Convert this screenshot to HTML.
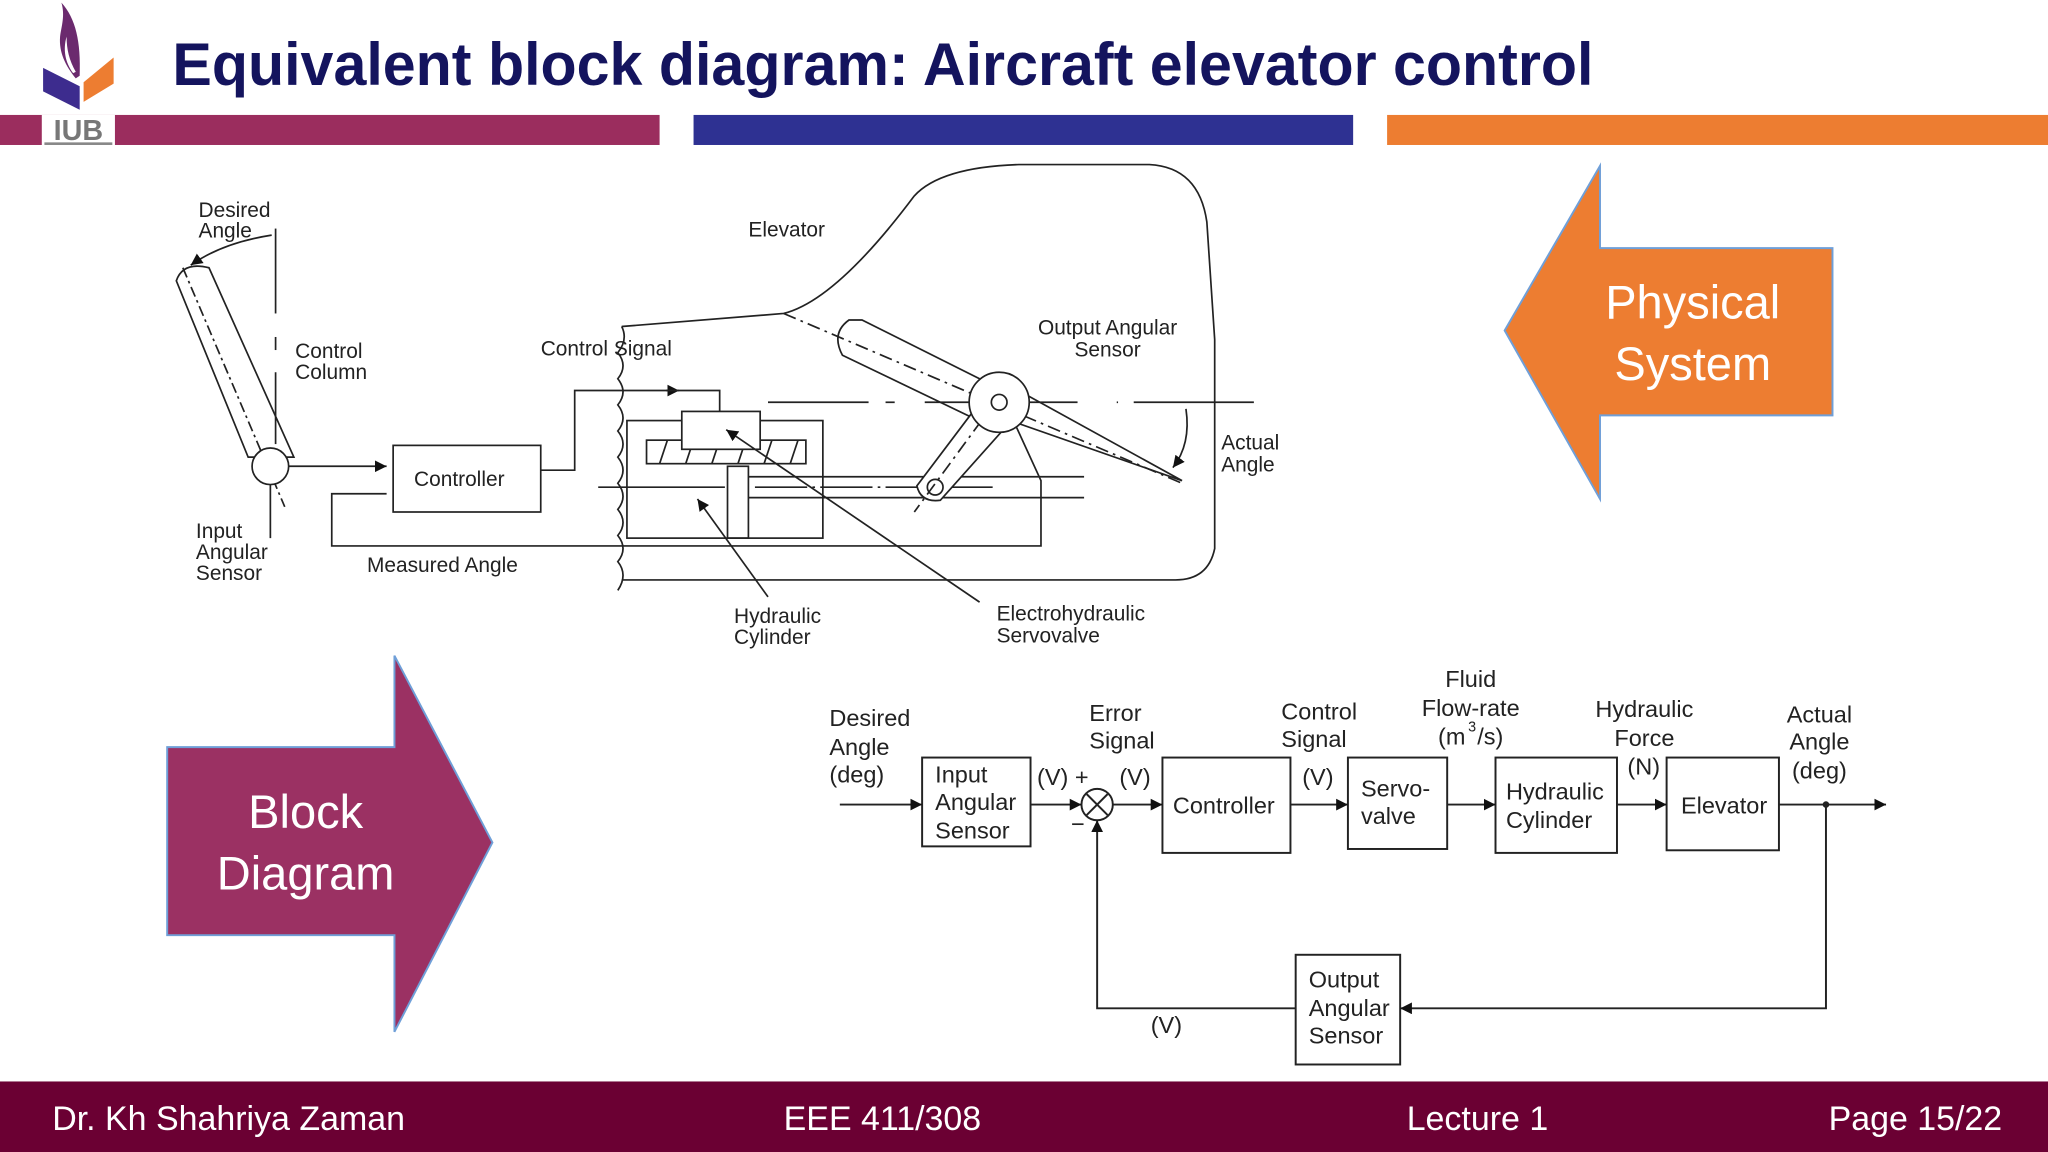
<!DOCTYPE html>
<html><head><meta charset="utf-8"><style>
html,body{margin:0;padding:0;background:#fff;}
svg{display:block;}
text{font-family:"Liberation Sans",sans-serif;}
</style></head><body>
<svg width="2048" height="1152" viewBox="0 0 1568 882" xmlns="http://www.w3.org/2000/svg">
<defs>
<marker id="a" viewBox="0 0 10 10" refX="10" refY="5" markerWidth="9" markerHeight="9" orient="auto" markerUnits="userSpaceOnUse"><path d="M0,0 L10,5 L0,10 z" fill="#111"/></marker>
</defs>
<rect width="1568" height="882" fill="#fff"/>
<!-- bars -->
<rect x="0" y="88" width="505" height="23" fill="#9b2d5e"/>
<rect x="531" y="88" width="505" height="23" fill="#2e3192"/>
<rect x="1062" y="88" width="506" height="23" fill="#ed7d31"/>
<!-- logo -->
<path d="M47,2 C58,14 62,32 61,58 L58,60 C50,50 45,40 46,28 C47,20 50,12 47,2 z" fill="#6b2a6e"/>
<path d="M51,28 C48,38 50,48 56,56 L58,55 C53,46 51,38 51,28z" fill="#fff"/>
<polygon points="33,52 61,66 61,84 33,70" fill="#3d2c8e"/>
<polygon points="64,63 87,44 87,64 64,78" fill="#ed7d31"/>
<rect x="32" y="88" width="56" height="24" fill="#fff"/>
<text x="60" y="107" font-size="22" font-weight="bold" fill="#777" text-anchor="middle">IUB</text>
<rect x="34" y="109" width="52" height="2" fill="#888"/>
<!-- title -->
<text x="132" y="65" font-size="46" font-weight="bold" fill="#14145e" textLength="1088" lengthAdjust="spacingAndGlyphs">Equivalent block diagram: Aircraft elevator control</text>
<!-- footer -->
<rect x="0" y="828" width="1568" height="54" fill="#6b0033"/>
<g fill="#fff" font-size="26">
<text x="40" y="865">Dr. Kh Shahriya Zaman</text>
<text x="600" y="865">EEE 411/308</text>
<text x="1077" y="865">Lecture 1</text>
<text x="1400" y="865">Page 15/22</text>
</g>
<!-- big arrows -->
<polygon points="1152,253 1225,127 1225,190 1403,190 1403,318 1225,318 1225,382" fill="#ed7d31" stroke="#6f9fd8" stroke-width="1.5"/>
<text x="1296" y="244" font-size="36" fill="#fff" text-anchor="middle">Physical</text>
<text x="1296" y="291" font-size="36" fill="#fff" text-anchor="middle">System</text>
<polygon points="128,572 302,572 302,502 377,645 302,790 302,716 128,716" fill="#9b3163" stroke="#6f9fd8" stroke-width="1.5"/>
<text x="234" y="634" font-size="36" fill="#fff" text-anchor="middle">Block</text>
<text x="234" y="681" font-size="36" fill="#fff" text-anchor="middle">Diagram</text>

<!-- physical drawing -->
<g stroke="#222" stroke-width="1.3" fill="none">
<path d="M135,215 L190,350 L225,350 L160,205 Q140,200 135,215z" fill="#fff"/>
<line x1="140" y1="205" x2="218" y2="388" stroke-dasharray="8,3,2,3"/>
<circle cx="207" cy="357" r="14" fill="#fff"/>
<line x1="211" y1="175" x2="211" y2="240"/>
<line x1="211" y1="258" x2="211" y2="268"/>
<line x1="211" y1="285" x2="211" y2="340"/>
<line x1="207" y1="371" x2="207" y2="412"/>
<path d="M208,180 Q170,186 146,203" marker-end="url(#a)"/>
<line x1="221" y1="357" x2="296" y2="357" marker-end="url(#a)"/>
<rect x="301" y="341" width="113" height="51"/>
<polyline points="414,360 440,360 440,299 520,299" marker-end="url(#a)"/>
<polyline points="510,299 551,299 551,316"/>
<polyline points="296,378 254,378 254,418 797,418 797,368 775,320"/>
<path d="M476,250 L600,240 Q640,230 700,150 Q720,128 780,126 L880,126 Q918,128 924,170 L930,260 L930,420 Q925,444 900,444 L476,444"/>
<path d="M476,250 q5,10 -3,20 q8,10 0,20 q8,10 0,20 q8,10 0,20 q8,10 0,20 q8,10 0,20 q8,10 0,20 q8,10 0,20 q8,10 0,20 q8,10 0,22"/>
<rect x="480" y="322" width="150" height="90"/>
<rect x="495" y="337" width="122" height="18"/>
<path d="M505,355 l6,-18 M525,355 l6,-18 M545,355 l6,-18 M565,355 l6,-18 M585,355 l6,-18 M605,355 l6,-18"/>
<rect x="522" y="315" width="60" height="29" fill="#fff"/>
<rect x="557" y="357" width="16" height="55"/>
<line x1="573" y1="365" x2="830" y2="365"/>
<line x1="573" y1="381" x2="830" y2="381"/>
<line x1="458" y1="373" x2="555" y2="373"/>
<line x1="578" y1="373" x2="760" y2="373" stroke-dasharray="40,4,2,4"/>
<path d="M650,245 Q636,255 645,272 L745,320 L770,300 L660,245z" fill="#fff"/>
<line x1="600" y1="240" x2="905" y2="370" stroke-dasharray="10,4,2,4"/>
<path d="M762,318 L905,368 L778,298"/>
<path d="M745,315 L702,372 Q705,385 720,383 L778,318z" fill="#fff"/>
<line x1="775" y1="290" x2="700" y2="392" stroke-dasharray="10,4,2,4"/>
<circle cx="716" cy="373" r="6"/>
<line x1="588" y1="308" x2="665" y2="308"/>
<line x1="678" y1="308" x2="685" y2="308"/>
<line x1="708" y1="308" x2="825" y2="308"/>
<line x1="855" y1="308" x2="856" y2="308"/>
<line x1="868" y1="308" x2="960" y2="308"/>
<circle cx="765" cy="308" r="23" fill="#fff"/>
<circle cx="765" cy="308" r="6"/>
<path d="M908,313 Q912,340 898,358" marker-end="url(#a)"/>
<line x1="750" y1="461" x2="556" y2="329" marker-end="url(#a)"/>
<line x1="588" y1="457" x2="534" y2="382" marker-end="url(#a)"/>
</g>
<g font-size="16" fill="#222">
<text x="152" y="166">Desired</text><text x="152" y="182">Angle</text>
<text x="226" y="274">Control</text><text x="226" y="290">Column</text>
<text x="317" y="372">Controller</text>
<text x="150" y="412">Input</text><text x="150" y="428">Angular</text><text x="150" y="444">Sensor</text>
<text x="281" y="438">Measured Angle</text>
<text x="573" y="181">Elevator</text>
<text x="414" y="272">Control Signal</text>
<text x="848" y="256" text-anchor="middle">Output Angular</text><text x="848" y="273" text-anchor="middle">Sensor</text>
<text x="935" y="344">Actual</text><text x="935" y="361">Angle</text>
<text x="562" y="477">Hydraulic</text><text x="562" y="493">Cylinder</text>
<text x="763" y="475">Electrohydraulic</text><text x="763" y="492">Servovalve</text>
</g>

<!-- block diagram -->
<g stroke="#222" stroke-width="1.5" fill="none">
<rect x="706" y="580" width="83" height="68"/>
<circle cx="840" cy="616" r="12"/>
<line x1="832" y1="608" x2="848" y2="624"/><line x1="848" y1="608" x2="832" y2="624"/>
<rect x="890" y="580" width="98" height="73"/>
<rect x="1032" y="580" width="76" height="70"/>
<rect x="1145" y="580" width="93" height="73"/>
<rect x="1276" y="580" width="86" height="71"/>
<rect x="992" y="731" width="80" height="84"/>
<line x1="643" y1="616" x2="706" y2="616" marker-end="url(#a)"/>
<line x1="789" y1="616" x2="828" y2="616" marker-end="url(#a)"/>
<line x1="852" y1="616" x2="890" y2="616" marker-end="url(#a)"/>
<line x1="988" y1="616" x2="1032" y2="616" marker-end="url(#a)"/>
<line x1="1108" y1="616" x2="1145" y2="616" marker-end="url(#a)"/>
<line x1="1238" y1="616" x2="1276" y2="616" marker-end="url(#a)"/>
<line x1="1362" y1="616" x2="1444" y2="616" marker-end="url(#a)"/>
<polyline points="1398,616 1398,772 1072,772" marker-end="url(#a)"/>
<polyline points="992,772 840,772 840,628" marker-end="url(#a)"/>
</g>
<circle cx="1398" cy="616" r="2.5" fill="#222"/>
<g font-size="18" fill="#222">
<text x="635" y="556">Desired</text><text x="635" y="578">Angle</text><text x="635" y="599">(deg)</text>
<text x="716" y="599">Input</text><text x="716" y="620">Angular</text><text x="716" y="642">Sensor</text>
<text x="794" y="601">(V) +</text>
<text x="820" y="637">−</text>
<text x="834" y="552">Error</text><text x="834" y="573">Signal</text>
<text x="857" y="601">(V)</text>
<text x="898" y="623">Controller</text>
<text x="981" y="551">Control</text><text x="981" y="572">Signal</text>
<text x="997" y="601">(V)</text>
<text x="1042" y="610">Servo-</text><text x="1042" y="631">valve</text>
<text x="1126" y="526" text-anchor="middle">Fluid</text><text x="1126" y="548" text-anchor="middle">Flow-rate</text>
<text x="1101" y="570">(m</text><text x="1124" y="560" font-size="11">3</text><text x="1131" y="570">/s)</text>
<text x="1153" y="612">Hydraulic</text><text x="1153" y="634">Cylinder</text>
<text x="1259" y="549" text-anchor="middle">Hydraulic</text><text x="1259" y="571" text-anchor="middle">Force</text>
<text x="1246" y="593">(N)</text>
<text x="1287" y="623">Elevator</text>
<text x="1393" y="553" text-anchor="middle">Actual</text><text x="1393" y="574" text-anchor="middle">Angle</text><text x="1393" y="596" text-anchor="middle">(deg)</text>
<text x="1002" y="756">Output</text><text x="1002" y="778">Angular</text><text x="1002" y="799">Sensor</text>
<text x="881" y="791">(V)</text>
</g>
</svg>
</body></html>
